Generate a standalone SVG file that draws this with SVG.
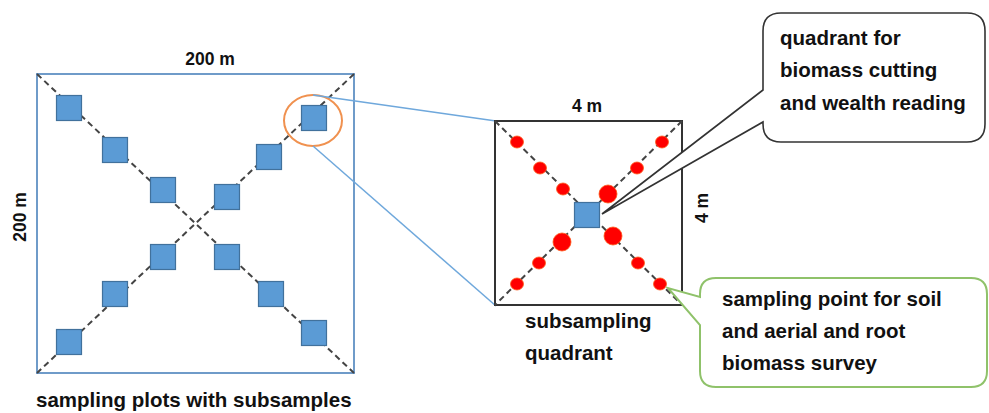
<svg xmlns="http://www.w3.org/2000/svg" width="989" height="413" viewBox="0 0 989 413">
<style>
.t{font-family:"Liberation Sans",Arial,sans-serif;font-weight:bold;fill:#111;}
.lbl{font-size:20.5px;}
.dim{font-size:17.5px;}
.diag{stroke:#444;stroke-width:2;stroke-dasharray:6 4;fill:none;}
.sq{fill:#5b9bd5;stroke:#41719c;stroke-width:1.2;}
.dot{fill:#ff0000;stroke:#ff5a1a;stroke-width:0.8;}
.link{stroke:#6fa8dc;stroke-width:1.5;fill:none;}
</style>
<defs>
<rect id="bsq" class="sq" x="-12.5" y="-12.5" width="25" height="25"/>
</defs>

<g id="plot">
<rect x="37" y="74" width="317" height="299" fill="#fff" stroke="#6f9bc9" stroke-width="2"/>
<line class="diag" x1="37" y1="74" x2="354" y2="373"/>
<line class="diag" x1="354" y1="74" x2="37" y2="373"/>
<use href="#bsq" x="69" y="108"/>
<use href="#bsq" x="115" y="150"/>
<use href="#bsq" x="163" y="190"/>
<use href="#bsq" x="314" y="118"/>
<use href="#bsq" x="269" y="157"/>
<use href="#bsq" x="227" y="197"/>
<use href="#bsq" x="163" y="257"/>
<use href="#bsq" x="115" y="294"/>
<use href="#bsq" x="69" y="342"/>
<use href="#bsq" x="227" y="257"/>
<use href="#bsq" x="271" y="294"/>
<use href="#bsq" x="314" y="333"/>
<ellipse cx="313" cy="120.5" rx="29" ry="25.5" fill="none" stroke="#f0914f" stroke-width="2"/>
<text class="t dim" x="210" y="65" text-anchor="middle">200 m</text>
<text class="t dim" transform="translate(26,217) rotate(-90)" text-anchor="middle">200 m</text>
<text class="t lbl" x="36" y="407">sampling plots with subsamples</text>
</g>

<g id="connectors">
<line class="link" x1="313" y1="95" x2="496" y2="121"/>
<line class="link" x1="313" y1="146" x2="496" y2="306"/>
</g>

<g id="quadrant">
<rect x="495" y="121" width="187" height="184" fill="#fff" stroke="#333" stroke-width="2"/>
<line class="diag" x1="495" y1="121" x2="682" y2="305"/>
<line class="diag" x1="682" y1="121" x2="495" y2="305"/>
<ellipse class="dot" cx="517" cy="142" rx="6.5" ry="6"/>
<ellipse class="dot" cx="540" cy="168" rx="6.5" ry="6"/>
<ellipse class="dot" cx="563" cy="189" rx="6.5" ry="6"/>
<ellipse class="dot" cx="662" cy="142" rx="6.5" ry="6"/>
<ellipse class="dot" cx="637" cy="168" rx="6.5" ry="6"/>
<circle class="dot" cx="608" cy="194" r="9"/>
<circle class="dot" cx="562" cy="242" r="9"/>
<ellipse class="dot" cx="539" cy="263" rx="6.5" ry="6"/>
<ellipse class="dot" cx="517" cy="284" rx="6.5" ry="6"/>
<circle class="dot" cx="613" cy="236" r="9"/>
<ellipse class="dot" cx="638" cy="263" rx="6.5" ry="6"/>
<ellipse class="dot" cx="660" cy="284" rx="6.5" ry="6"/>
<use href="#bsq" x="587" y="215"/>
<text class="t dim" x="587" y="112" text-anchor="middle">4 m</text>
<text class="t dim" transform="translate(708,208) rotate(-90)" text-anchor="middle">4 m</text>
<text class="t lbl" x="525" y="328">subsampling</text>
<text class="t lbl" x="525" y="360">quadrant</text>
</g>

<g id="callout-quadrant">
<path d="M781,13 H967 Q985,13 985,31 V124 Q985,142 967,142 H781 Q763,142 763,124 V122 L602,214 L763,90 V31 Q763,13 781,13 Z" fill="#fff" stroke="#333" stroke-width="1.6"/>
<text class="t lbl" x="780" y="45">quadrant for</text>
<text class="t lbl" x="780" y="77">biomass cutting</text>
<text class="t lbl" x="780" y="110">and wealth reading</text>
</g>

<g id="callout-point">
<path d="M716,278 H971 Q987,278 987,294 V371 Q987,387 971,387 H716 Q700,387 700,371 V325 L668,288 L700,297 V294 Q700,278 716,278 Z" fill="#fff" stroke="#8fc26a" stroke-width="2"/>
<text class="t lbl" x="722" y="306">sampling point for soil</text>
<text class="t lbl" x="722" y="338">and aerial and root</text>
<text class="t lbl" x="722" y="370">biomass survey</text>
</g>
</svg>
